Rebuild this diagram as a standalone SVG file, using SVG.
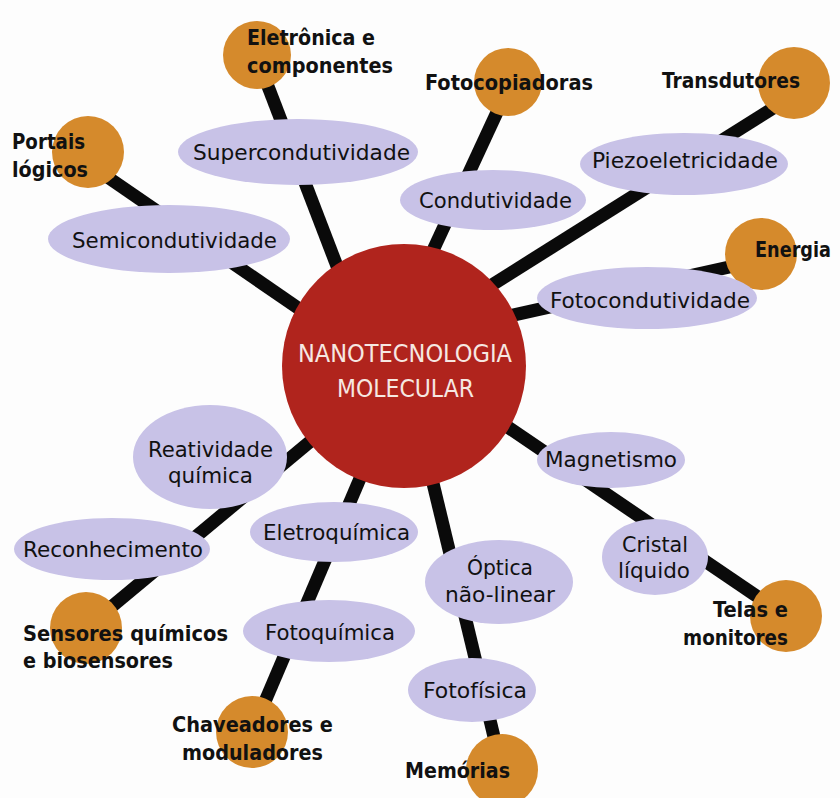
<svg xmlns="http://www.w3.org/2000/svg" width="840" height="798" viewBox="0 0 840 798">
<style>
.bg{fill:#fdfdfd}
.ln{stroke:#0a0a0a;stroke-width:13;stroke-linecap:butt;fill:none}
.out{fill:#d58a2c}
.ell{fill:#c8c2e7}
.ctr{fill:#b0241d}
text{font-family:"Liberation Sans Narrow","DejaVu Sans Condensed","Liberation Sans",sans-serif;font-size:22px;fill:#111}
.b{font-weight:bold}
.c{fill:#f6e8e2;font-size:24px}
</style>
<rect class="bg" width="840" height="798"/>
<g id="connectors">
<line class="ln" x1="256" y1="55" x2="350" y2="300"/>
<line class="ln" x1="90" y1="165" x2="330" y2="330"/>
<line class="ln" x1="505" y1="95" x2="410" y2="300"/>
<line class="ln" x1="794" y1="95" x2="460" y2="305"/>
<line class="ln" x1="761" y1="260" x2="500" y2="318"/>
<line class="ln" x1="86" y1="628" x2="330" y2="425"/>
<line class="ln" x1="252" y1="732" x2="370" y2="455"/>
<line class="ln" x1="502" y1="770" x2="425" y2="450"/>
<line class="ln" x1="786" y1="616" x2="490" y2="415"/>
</g>
<g id="n-eletronica"><circle class="out" cx="257" cy="55" r="34"/><text class="b" x="247" y="45" textLength="128" lengthAdjust="spacingAndGlyphs">Eletrônica e</text><text class="b" x="247" y="73" textLength="146" lengthAdjust="spacingAndGlyphs">componentes</text></g>
<g id="n-portais"><circle class="out" cx="88" cy="152" r="36"/><text class="b" x="12" y="149" textLength="73" lengthAdjust="spacingAndGlyphs">Portais</text><text class="b" x="12" y="177" textLength="76" lengthAdjust="spacingAndGlyphs">lógicos</text></g>
<g id="n-fotocopiadoras"><circle class="out" cx="508" cy="82" r="34"/><text class="b" x="425" y="90" textLength="168" lengthAdjust="spacingAndGlyphs">Fotocopiadoras</text></g>
<g id="n-transdutores"><circle class="out" cx="794" cy="83" r="36"/><text class="b" x="662" y="88" textLength="138" lengthAdjust="spacingAndGlyphs">Transdutores</text></g>
<g id="n-energia"><circle class="out" cx="761" cy="254" r="36"/><text class="b" x="755" y="257" textLength="76" lengthAdjust="spacingAndGlyphs">Energia</text></g>
<g id="n-sensores"><circle class="out" cx="86" cy="628" r="36"/><text class="b" x="23" y="641" textLength="205" lengthAdjust="spacingAndGlyphs">Sensores químicos</text><text class="b" x="23" y="668" textLength="150" lengthAdjust="spacingAndGlyphs">e biosensores</text></g>
<g id="n-chaveadores"><circle class="out" cx="252" cy="732" r="36"/><text class="b" x="172" y="732" textLength="161" lengthAdjust="spacingAndGlyphs">Chaveadores e</text><text class="b" x="182" y="760" textLength="141" lengthAdjust="spacingAndGlyphs">moduladores</text></g>
<g id="n-telas"><circle class="out" cx="786" cy="616" r="36"/><text class="b" x="713" y="617" textLength="75" lengthAdjust="spacingAndGlyphs">Telas e</text><text class="b" x="683" y="645" textLength="105" lengthAdjust="spacingAndGlyphs">monitores</text></g>
<g id="n-memorias"><circle class="out" cx="502" cy="770" r="36"/><text class="b" x="405" y="778" textLength="105" lengthAdjust="spacingAndGlyphs">Memórias</text></g>
<g id="n-supercondutividade"><ellipse class="ell" cx="298" cy="152" rx="120" ry="33"/><text x="193" y="160" textLength="217" lengthAdjust="spacingAndGlyphs">Supercondutividade</text></g>
<g id="n-semicondutividade"><ellipse class="ell" cx="169" cy="239" rx="121" ry="34"/><text x="72" y="248" textLength="205" lengthAdjust="spacingAndGlyphs">Semicondutividade</text></g>
<g id="n-condutividade"><ellipse class="ell" cx="493" cy="200" rx="93" ry="30"/><text x="419" y="208" textLength="153" lengthAdjust="spacingAndGlyphs">Condutividade</text></g>
<g id="n-piezo"><ellipse class="ell" cx="684" cy="164" rx="104" ry="31"/><text x="592" y="168" textLength="186" lengthAdjust="spacingAndGlyphs">Piezoeletricidade</text></g>
<g id="n-fotocondutividade"><ellipse class="ell" cx="647" cy="298" rx="110" ry="31"/><text x="550" y="308" textLength="200" lengthAdjust="spacingAndGlyphs">Fotocondutividade</text></g>
<g id="n-reatividade"><ellipse class="ell" cx="210" cy="457" rx="77" ry="52"/><text x="148" y="457" textLength="125" lengthAdjust="spacingAndGlyphs">Reatividade</text><text x="168" y="483" textLength="85" lengthAdjust="spacingAndGlyphs">química</text></g>
<g id="n-reconhecimento"><ellipse class="ell" cx="112" cy="549" rx="98" ry="31"/><text x="23" y="557" textLength="180" lengthAdjust="spacingAndGlyphs">Reconhecimento</text></g>
<g id="n-eletroquimica"><ellipse class="ell" cx="334" cy="532" rx="84" ry="30"/><text x="263" y="540" textLength="147" lengthAdjust="spacingAndGlyphs">Eletroquímica</text></g>
<g id="n-fotoquimica"><ellipse class="ell" cx="329" cy="631" rx="86" ry="31"/><text x="265" y="640" textLength="130" lengthAdjust="spacingAndGlyphs">Fotoquímica</text></g>
<g id="n-magnetismo"><ellipse class="ell" cx="611" cy="460" rx="74" ry="28"/><text x="545" y="467" textLength="132" lengthAdjust="spacingAndGlyphs">Magnetismo</text></g>
<g id="n-cristal"><ellipse class="ell" cx="655" cy="557" rx="53" ry="38"/><text x="622" y="552" textLength="66" lengthAdjust="spacingAndGlyphs">Cristal</text><text x="618" y="578" textLength="72" lengthAdjust="spacingAndGlyphs">líquido</text></g>
<g id="n-optica"><ellipse class="ell" cx="499" cy="582" rx="74" ry="42"/><text x="467" y="575" textLength="66" lengthAdjust="spacingAndGlyphs">Óptica</text><text x="445" y="602" textLength="110" lengthAdjust="spacingAndGlyphs">não-linear</text></g>
<g id="n-fotofisica"><ellipse class="ell" cx="472" cy="690" rx="64" ry="32"/><text x="423" y="698" textLength="104" lengthAdjust="spacingAndGlyphs">Fotofísica</text></g>
<g id="n-center"><circle class="ctr" cx="404" cy="366" r="122"/><text class="c" x="298" y="362" textLength="214" lengthAdjust="spacingAndGlyphs">NANOTECNOLOGIA</text><text class="c" x="337" y="397" textLength="137" lengthAdjust="spacingAndGlyphs">MOLECULAR</text></g>
</svg>
